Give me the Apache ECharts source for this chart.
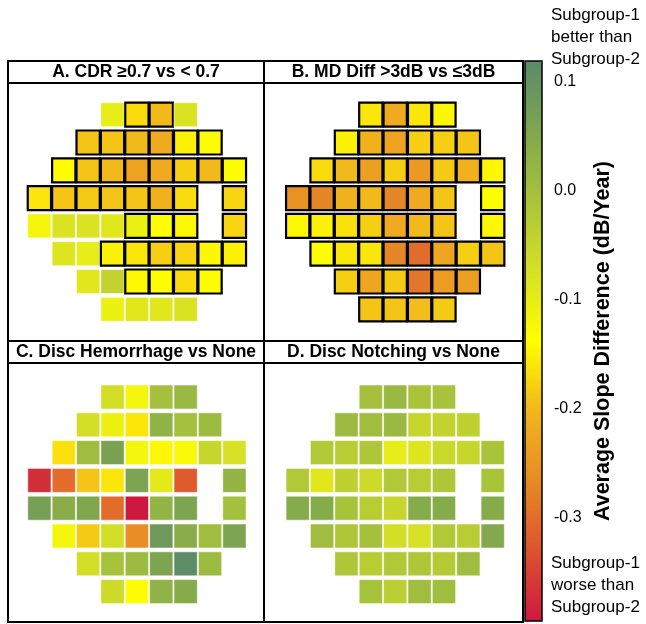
<!DOCTYPE html>
<html>
<head>
<meta charset="utf-8">
<script src="https://cdn.jsdelivr.net/npm/echarts@6/dist/echarts.min.js"></script>
<style>
  html, body { margin: 0; padding: 0; background: #fff; }
  #chart { width: 646px; height: 624px; }
</style>
</head>
<body>
<div id="chart"></div>
<script>
// 24-2 visual field layout: 8 rows x 9 columns, null = no test point (blind spot / outside field)
const panelTitles = [
  'A. CDR \u22650.7 vs < 0.7',
  'B. MD Diff >3dB vs \u22643dB',
  'C. Disc Hemorrhage vs None',
  'D. Disc Notching vs None'
];

// Average slope difference (dB/year) per test location
const valuesA = [
  [null, null, null, -0.10, -0.17, -0.20, -0.08, null, null],
  [null, null, -0.19, -0.19, -0.20, -0.22, -0.15, -0.14, null],
  [null, -0.14, -0.19, -0.20, -0.23, -0.22, -0.18, -0.20, -0.14],
  [-0.16, -0.19, -0.185, -0.19, -0.19, -0.21, -0.17, null, -0.175],
  [-0.12, -0.08, -0.08, -0.09, -0.11, -0.14, -0.145, null, -0.175],
  [null, -0.085, -0.10, -0.15, -0.16, -0.18, -0.175, -0.145, -0.15],
  [null, null, -0.09, -0.045, -0.145, -0.14, -0.17, -0.14, null],
  [null, null, null, -0.11, -0.09, -0.09, -0.08, null, null]
];
const valuesB = [
  [null, null, null, -0.16, -0.22, -0.16, -0.145, null, null],
  [null, null, -0.15, -0.21, -0.23, -0.18, -0.18, -0.19, null],
  [null, -0.17, -0.20, -0.235, -0.18, -0.245, -0.185, -0.21, -0.145],
  [-0.255, -0.27, -0.21, -0.20, -0.27, -0.22, -0.19, null, -0.14],
  [-0.145, -0.15, -0.165, -0.18, -0.22, -0.20, -0.19, null, -0.145],
  [null, -0.14, -0.16, -0.16, -0.27, -0.30, -0.225, -0.18, -0.19],
  [null, null, -0.18, -0.225, -0.185, -0.29, -0.24, -0.235, null],
  [null, null, null, -0.19, -0.19, -0.195, -0.185, null, null]
];
const valuesC = [
  [null, null, null, -0.07, -0.12, 0.00, 0.015, null, null],
  [null, null, -0.07, -0.11, -0.16, 0.03, 0.00, 0.01, null],
  [null, -0.165, 0.005, 0.065, -0.12, -0.145, -0.125, -0.05, -0.075],
  [-0.37, -0.30, -0.19, -0.16, 0.06, -0.095, -0.32, null, 0.025],
  [0.07, 0.04, 0.055, -0.30, -0.395, 0.025, 0.06, null, 0.00],
  [null, -0.12, -0.185, -0.07, -0.26, 0.085, 0.04, 0.005, 0.06],
  [null, null, -0.07, -0.005, 0.01, 0.06, 0.115, 0.01, null],
  [null, null, null, -0.06, -0.14, 0.03, 0.045, null, null]
];
const valuesD = [
  [null, null, null, 0.00, 0.015, -0.01, -0.005, null, null],
  [null, null, 0.01, 0.005, 0.015, -0.05, -0.045, -0.04, null],
  [null, -0.02, -0.03, -0.015, -0.10, -0.085, -0.055, -0.05, -0.01],
  [-0.02, -0.09, -0.04, -0.06, -0.02, -0.03, -0.015, null, -0.01],
  [0.045, 0.045, -0.005, -0.03, -0.05, 0.045, 0.045, null, 0.045],
  [null, 0.005, -0.015, 0.00, -0.07, -0.075, -0.02, -0.03, 0.05],
  [null, null, -0.015, -0.03, -0.02, -0.015, -0.025, 0.005, null],
  [null, null, null, -0.005, -0.035, 0.005, 0.005, null, null]
];

// 1 = statistically significant location (outlined)
const sigA = [
  [0, 0, 0, 0, 1, 1, 0, 0, 0],
  [0, 0, 1, 1, 1, 1, 1, 1, 0],
  [0, 1, 1, 1, 1, 1, 1, 1, 1],
  [1, 1, 1, 1, 1, 1, 1, 0, 1],
  [0, 0, 0, 0, 1, 1, 1, 0, 1],
  [0, 0, 0, 1, 1, 1, 1, 1, 1],
  [0, 0, 0, 0, 1, 1, 1, 1, 0],
  [0, 0, 0, 0, 0, 0, 0, 0, 0]
];
const sigB = [
  [0, 0, 0, 1, 1, 1, 1, 0, 0],
  [0, 0, 1, 1, 1, 1, 1, 1, 0],
  [0, 1, 1, 1, 1, 1, 1, 1, 1],
  [1, 1, 1, 1, 1, 1, 1, 0, 1],
  [1, 1, 1, 1, 1, 1, 1, 0, 1],
  [0, 1, 1, 1, 1, 1, 1, 1, 1],
  [0, 0, 1, 1, 1, 1, 1, 1, 0],
  [0, 0, 0, 1, 1, 1, 1, 0, 0]
];
const sigC = [];
const sigD = [];

// Colour scale
const scaleMin = -0.395;
const scaleMax = 0.119;
const colorTicks = [-0.3, -0.2, -0.1, 0.0, 0.1];
const scaleTextTop = 'Subgroup-1\nbetter than\nSubgroup-2';
const scaleTextBottom = 'Subgroup-1\nworse than\nSubgroup-2';
const scaleName = 'Average Slope Difference (dB/Year)';

const palette = ['#cd1840', '#dd5230', '#e78a26', '#f2b61c', '#ffff00',
                 '#d6e026', '#aac43a', '#80a64e', '#5a8a6a'];

const FONT = '"Liberation Sans", Arial, sans-serif';
const colIdx = [0, 1, 2, 3, 4, 5, 6, 7, 8];
const rowIdx = [0, 1, 2, 3, 4, 5, 6, 7];

function toItems(values, sig) {
  const out = [];
  values.forEach((row, r) => row.forEach((v, c) => {
    if (v !== null) out.push([c, r, v, (sig[r] && sig[r][c]) ? 1 : 0]);
  }));
  return out;
}

function renderCell(params, api) {
  const p = api.coord([api.value(0), api.value(1)]);
  const s = api.size([1, 1]);
  const w = s[0] - 1.1;
  const h = s[1] - 3.8;
  const bold = api.value(3) === 1;
  return {
    type: 'rect',
    shape: { x: p[0] - w / 2, y: p[1] - h / 2, width: w, height: h },
    style: {
      fill: api.visual('color'),
      stroke: bold ? '#000' : 'rgba(255,255,255,0.55)',
      lineWidth: bold ? 2.2 : 1
    }
  };
}

const gridBoxes = [
  { left: 27.2, top: 100.8 },
  { left: 285.5, top: 100.8 },
  { left: 27.2, top: 383.1 },
  { left: 285.5, top: 383.1 }
];

const grids = gridBoxes.map(g => ({ left: g.left, top: g.top, width: 219.4, height: 222.4, show: false }));
grids.push({ left: 525, top: 61, width: 17, height: 560, show: false });

const xAxes = gridBoxes.map((g, i) => ({
  type: 'category', gridIndex: i, data: colIdx, show: false
}));
xAxes.push({ type: 'value', gridIndex: 4, show: false, min: 0, max: 1 });

const yAxes = gridBoxes.map((g, i) => ({
  type: 'category', gridIndex: i, data: rowIdx, inverse: true, show: false
}));
yAxes.push({
  type: 'value', gridIndex: 4, position: 'right',
  min: scaleMin, max: scaleMax,
  axisLine: { show: false },
  splitLine: { show: false },
  axisTick: { show: true, length: 7, customValues: colorTicks, lineStyle: { color: '#000', width: 1 } },
  axisLabel: {
    show: true, customValues: colorTicks, margin: 12,
    color: '#000', fontSize: 16, fontFamily: FONT,
    formatter: v => v.toFixed(1)
  },
  name: scaleName, nameLocation: 'middle', nameRotate: 90, nameGap: 50,
  nameTextStyle: { color: '#000', fontSize: 21.5, fontWeight: 'bold', fontFamily: FONT }
});

const panelData = [toItems(valuesA, sigA), toItems(valuesB, sigB), toItems(valuesC, sigC), toItems(valuesD, sigD)];
const series = panelData.map((d, i) => ({
  type: 'custom', xAxisIndex: i, yAxisIndex: i, data: d,
  renderItem: renderCell, encode: { x: 0, y: 1 }, silent: true
}));

// Panel frames and title bars
const frames = [
  { x: 8, y: 61, w: 256, h: 280 },
  { x: 264, y: 61, w: 259, h: 280 },
  { x: 8, y: 341, w: 256, h: 281 },
  { x: 264, y: 341, w: 259, h: 281 }
];
const graphics = [];
frames.forEach((f, i) => {
  graphics.push({ type: 'rect', shape: { x: f.x, y: f.y, width: f.w, height: f.h },
    style: { fill: 'none', stroke: '#000', lineWidth: 2 }, z: 10 });
  graphics.push({ type: 'line', shape: { x1: f.x, y1: f.y + 22, x2: f.x + f.w, y2: f.y + 22 },
    style: { stroke: '#000', lineWidth: 2.2 }, z: 10 });
  graphics.push({ type: 'text', x: f.x + f.w / 2, y: f.y + 11.5, z: 10,
    style: { text: panelTitles[i], align: 'center', verticalAlign: 'middle',
      font: 'bold 17.5px ' + FONT, fill: '#000' } });
});
graphics.push({ type: 'text', x: 551, y: 4, z: 10,
  style: { text: scaleTextTop, font: '17px ' + FONT, lineHeight: 22, fill: '#000', align: 'left', verticalAlign: 'top' } });
graphics.push({ type: 'text', x: 551, y: 552, z: 10,
  style: { text: scaleTextBottom, font: '17px ' + FONT, lineHeight: 22, fill: '#000', align: 'left', verticalAlign: 'top' } });
graphics.push({ type: 'rect', shape: { x: 525, y: 61, width: 17, height: 560 },
  style: { fill: 'none', stroke: '#000', lineWidth: 1.5 }, z: 10 });

const chart = echarts.init(document.getElementById('chart'), null, { renderer: 'canvas' });
chart.setOption({
  animation: false,
  backgroundColor: '#fff',
  grid: grids,
  xAxis: xAxes,
  yAxis: yAxes,
  visualMap: {
    type: 'continuous', min: scaleMin, max: scaleMax, dimension: 2,
    seriesIndex: [0, 1, 2, 3], calculable: false, realtime: false,
    orient: 'vertical', left: 525, top: 61, itemWidth: 17, itemHeight: 560,
    padding: 0, text: null, showLabel: false,
    inRange: { color: palette }
  },
  series: series,
  graphic: graphics
});
</script>
</body>
</html>
